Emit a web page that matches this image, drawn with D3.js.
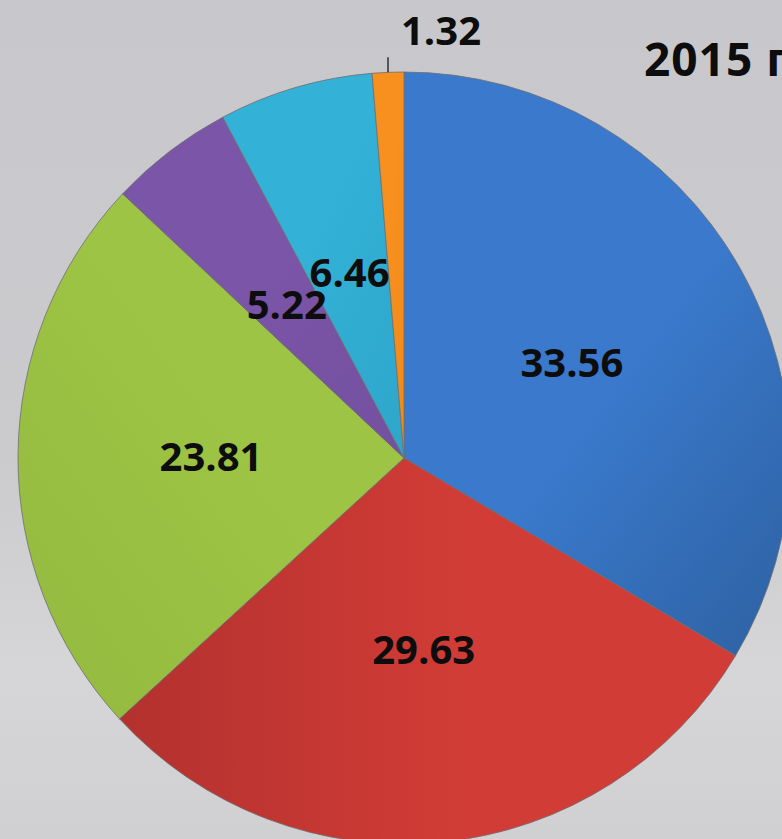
<!DOCTYPE html>
<html>
<head>
<meta charset="utf-8">
<script src="https://cdn.jsdelivr.net/npm/d3@7"></script>
<style>
  html, body { margin: 0; padding: 0; overflow: hidden; }
  body { width: 782px; height: 839px; }
  svg { display: block; font-family: "Open Sans", "DejaVu Sans", sans-serif; }
</style>
</head>
<body>
<div id="chart"></div>
<script>
const categories = ["A", "B", "C", "D", "E", "F"];
const values = [33.56, 29.63, 23.81, 5.22, 6.46, 1.32];
const labels = ["33.56", "29.63", "23.81", "5.22", "6.46", "1.32"];
const colors = ["#3a79cc", "#d13c36", "#9dc444", "#7b55a8", "#33b1d7", "#f7901e"];
const shades = ["#2f64a6", "#b3312e", "#93b93f", "#74509f", "#2ea6ca", "#f08a1a"];
const outside = [false, false, false, false, false, true];
const title = "2015 г";

const width = 782, height = 839;
const cx = 404, cy = 458, radius = 386;

const svg = d3.select("#chart").append("svg").attr("width", width).attr("height", height);
const defs = svg.append("defs");

const bg = defs.append("linearGradient").attr("id", "bg").attr("x1", 0).attr("y1", 0).attr("x2", 0).attr("y2", 1);
bg.append("stop").attr("offset", "0%").attr("stop-color", "#c8c8cc");
bg.append("stop").attr("offset", "55%").attr("stop-color", "#cbcbce");
bg.append("stop").attr("offset", "80%").attr("stop-color", "#d6d6d8");
bg.append("stop").attr("offset", "100%").attr("stop-color", "#d0d0d2");
svg.append("rect").attr("width", width).attr("height", height).attr("fill", "url(#bg)");

// one gradient per slice, light at one side and darker at the other
const gradDirs = [
  { x1: 0.3, y1: 0.1, x2: 1, y2: 0.9 },
  { x1: 1, y1: 0.5, x2: 0, y2: 0.5 },
  { x1: 1, y1: 0, x2: 0, y2: 1 },
  { x1: 0, y1: 0, x2: 1, y2: 1 },
  { x1: 0, y1: 0, x2: 1, y2: 1 },
  { x1: 0, y1: 0, x2: 1, y2: 1 },
];
categories.forEach((c, i) => {
  const g = defs.append("linearGradient").attr("id", `g${i}`)
    .attr("x1", gradDirs[i].x1).attr("y1", gradDirs[i].y1)
    .attr("x2", gradDirs[i].x2).attr("y2", gradDirs[i].y2);
  g.append("stop").attr("offset", "0%").attr("stop-color", colors[i]);
  g.append("stop").attr("offset", "45%").attr("stop-color", colors[i]);
  g.append("stop").attr("offset", "100%").attr("stop-color", shades[i]);
});

const data = categories.map((c, i) => ({ key: c, value: values[i], label: labels[i], idx: i }));
const pie = d3.pie().sort(null).value((d) => d.value);
const arcs = pie(data);
const arc = d3.arc().innerRadius(0).outerRadius(radius);
const labelArc = d3.arc().innerRadius(radius / 2).outerRadius(radius / 2);

const g = svg.append("g").attr("transform", `translate(${cx},${cy})`);

g.selectAll("path.slice")
  .data(arcs)
  .enter()
  .append("path")
  .attr("class", "slice")
  .attr("d", arc)
  .attr("fill", (d) => `url(#g${d.data.idx})`)
  .attr("stroke", "#6f6f72")
  .attr("stroke-width", 0.8);

g.selectAll("text.inside")
  .data(arcs.filter((d) => !outside[d.data.idx]))
  .enter()
  .append("text")
  .attr("class", "inside")
  .attr("transform", (d) => `translate(${labelArc.centroid(d)})`)
  .attr("text-anchor", "middle")
  .attr("dy", "0.36em")
  .attr("font-size", 40)
  .attr("font-weight", 700)
  .attr("fill", "#0d0d0d")
  .text((d) => d.data.label);

// small slice: label above the pie with a short leader line
arcs.filter((d) => outside[d.data.idx]).forEach((d) => {
  const mid = (d.startAngle + d.endAngle) / 2;
  const px = radius * Math.sin(mid);
  const py = -radius * Math.cos(mid);
  g.append("line")
    .attr("x1", px).attr("y1", py)
    .attr("x2", px).attr("y2", py - 15)
    .attr("stroke", "#3a3a3a")
    .attr("stroke-width", 1.6);
  g.append("text")
    .attr("x", px + 13)
    .attr("y", py - 27)
    .attr("font-size", 40)
    .attr("font-weight", 700)
    .attr("fill", "#0d0d0d")
    .text(d.data.label);
});

svg.append("text")
  .attr("x", 644)
  .attr("y", 76)
  .attr("font-size", 46)
  .attr("font-weight", 700)
  .attr("letter-spacing", 1)
  .attr("fill", "#0d0d0d")
  .text(title);
</script>
</body>
</html>
